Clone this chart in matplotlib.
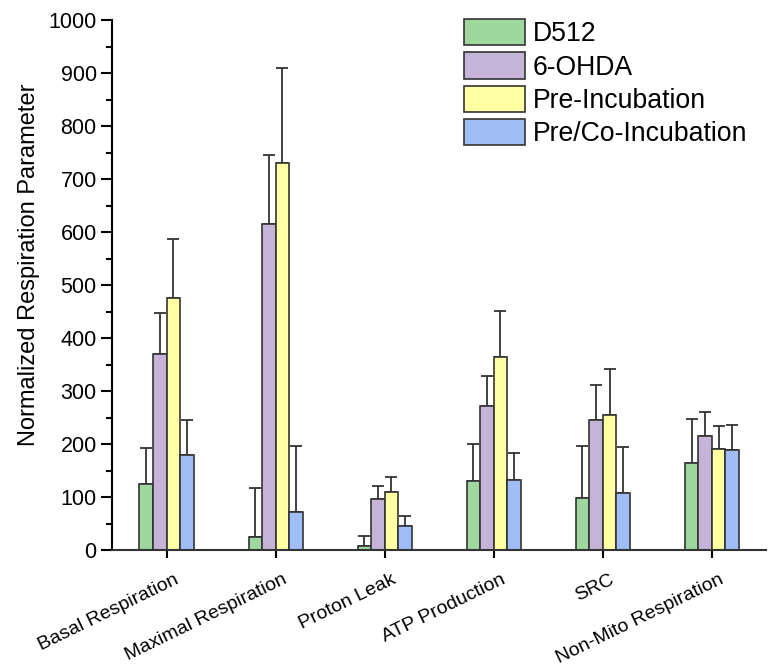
import matplotlib
matplotlib.use("Agg")
import matplotlib.pyplot as plt
import matplotlib.transforms as mtransforms
import numpy as np
from matplotlib.ticker import MultipleLocator

plt.rcParams['font.family'] = ['Liberation Sans', 'DejaVu Sans']

categories = ["Basal Respiration", "Maximal Respiration", "Proton Leak",
              "ATP Production", "SRC", "Non-Mito Respiration"]
series = ["D512", "6-OHDA", "Pre-Incubation", "Pre/Co-Incubation"]
d512 = [125, 25, 7, 131, 99, 164]
d512_err = [68, 92, 20, 70, 98, 84]
ohda = [369, 615, 97, 271, 245, 216]
ohda_err = [79, 130, 24, 57, 66, 44]
pre = [476, 731, 109, 365, 255, 190]
pre_err = [110, 179, 29, 86, 86, 44]
preco = [179, 71, 46, 133, 108, 188]
preco_err = [67, 126, 19, 51, 86, 48]

colors = ["#9fd89f", "#c5b4d7", "#ffffa3", "#9fbdf7"]
values = [d512, ohda, pre, preco]
errors = [d512_err, ohda_err, pre_err, preco_err]

fig = plt.figure(figsize=(7.69, 6.68), dpi=100)
ax = fig.add_axes([0.1456, 0.1766, 0.851, 0.7934])

x = np.arange(len(categories))
w = 0.124
handles = []
for i, (v, e, c, s) in enumerate(zip(values, errors, colors, series)):
    pos = x + (i - 1.5) * w
    b = ax.bar(pos, v, width=w, color=c, edgecolor="#333333", linewidth=1.2,
               label=s, zorder=2)
    handles.append(b)
    ax.errorbar(pos, v, yerr=[np.zeros(len(e)), e], fmt='none',
                ecolor="#333333", elinewidth=1.3, capsize=4.5, capthick=1.3,
                zorder=1)

ax.set_xlim(-0.5, 5.5)
ax.set_ylim(0, 1000)
ax.yaxis.set_major_locator(MultipleLocator(100))
ax.yaxis.set_minor_locator(MultipleLocator(50))
ax.spines['top'].set_visible(False)
ax.spines['right'].set_visible(False)
ax.spines['left'].set_linewidth(1.5)
ax.spines['bottom'].set_linewidth(1.5)
ax.spines['bottom'].set_color("#333333")
ax.tick_params(axis='y', which='major', direction='out', length=8, width=1.5,
               labelsize=15.5, pad=3)
ax.tick_params(axis='y', which='minor', direction='out', length=4, width=1.5)
ax.tick_params(axis='x', which='major', direction='out', length=6, width=1.5,
               pad=9)
ax.set_xticks(x)
ax.set_xticklabels(categories, rotation=26, ha='right', rotation_mode='anchor',
                   fontsize=14)
offset = mtransforms.ScaledTranslation(7 / 100, 0, fig.dpi_scale_trans)
for lbl in ax.get_xticklabels():
    lbl.set_transform(lbl.get_transform() + offset)
ax.set_ylabel("Normalized Respiration Parameter", fontsize=17)
ax.yaxis.set_label_coords(-0.110, 0.538)

fs = 19.2
leg = fig.legend(handles=handles, labels=series, loc='upper left',
                 bbox_to_anchor=(464 / 769, 1 - 19 / 668),
                 bbox_transform=fig.transFigure, frameon=False,
                 fontsize=fs, handlelength=2.28, handleheight=1.15,
                 handletextpad=0.30, labelspacing=0.19, borderpad=0,
                 borderaxespad=0)

fig.savefig("out.png", dpi=100)
